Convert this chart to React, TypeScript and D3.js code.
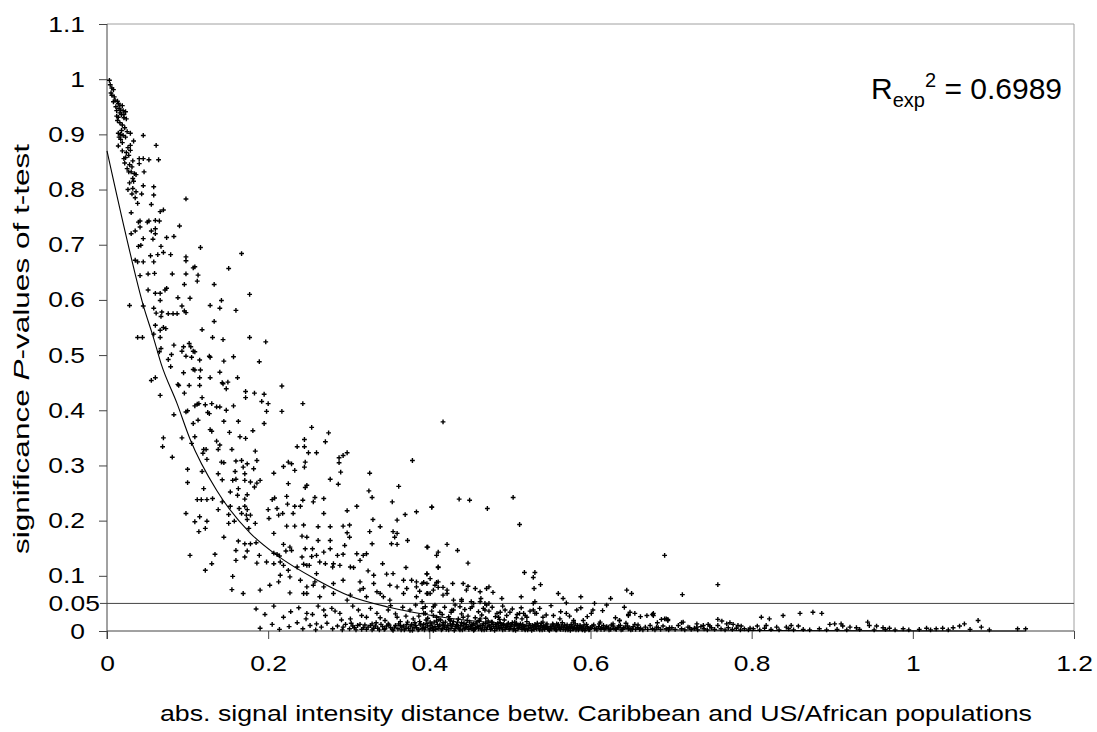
import React, { useEffect, useRef } from 'react';
import * as d3 from 'd3';

// axis ticks
const xTicks = [0, 0.2, 0.4, 0.6, 0.8, 1, 1.2];
const yTicks = [0, 0.1, 0.2, 0.3, 0.4, 0.5, 0.6, 0.7, 0.8, 0.9, 1, 1.1];
const pThreshold = 0.05;
const rSquared = '0.6989';

// exponential trend line
const fitX = [0, 0.025, 0.045, 0.058, 0.067, 0.087, 0.103, 0.136, 0.178, 0.211, 0.26, 0.302, 0.35, 0.417, 0.488, 0.6, 0.8, 1.0, 1.14];
const fitY = [0.87, 0.708, 0.59, 0.53, 0.485, 0.412, 0.348, 0.255, 0.177, 0.137, 0.093, 0.063, 0.043, 0.025, 0.014, 0.005, 0.001, 0.0002, 0.00005];

// scatter points [distance, p-value], grouped by region of the plot
const topPoints: [number, number][] = [
  [0.003, 0.998], [0.006, 0.984], [0.008, 0.981], [0.006, 0.971], [0.008, 0.959], [0.013, 0.96], [0.014, 0.956],
  [0.016, 0.953], [0.019, 0.952], [0.012, 0.943], [0.02, 0.943], [0.023, 0.941], [0.016, 0.939], [0.012, 0.933],
  [0.014, 0.931], [0.021, 0.93], [0.016, 0.921], [0.019, 0.917], [0.014, 0.902], [0.017, 0.9], [0.02, 0.898],
  [0.029, 0.902], [0.045, 0.898], [0.023, 0.895], [0.017, 0.891], [0.033, 0.888], [0.014, 0.879], [0.029, 0.88],
  [0.061, 0.88], [0.019, 0.87], [0.029, 0.871], [0.027, 0.862], [0.023, 0.858], [0.021, 0.856], [0.04, 0.856],
  [0.045, 0.856], [0.052, 0.854], [0.064, 0.854], [0.032, 0.852], [0.031, 0.841], [0.04, 0.847], [0.03, 0.832],
  [0.027, 0.832], [0.034, 0.829], [0.036, 0.827], [0.046, 0.832], [0.032, 0.82], [0.028, 0.812], [0.045, 0.807],
  [0.058, 0.805], [0.032, 0.802], [0.036, 0.796], [0.031, 0.792], [0.043, 0.792], [0.058, 0.79], [0.098, 0.783],
  [0.055, 0.773], [0.03, 0.758], [0.066, 0.76], [0.07, 0.763], [0.039, 0.741], [0.041, 0.743], [0.05, 0.741],
  [0.052, 0.743], [0.06, 0.744], [0.065, 0.743], [0.09, 0.734], [0.041, 0.732], [0.035, 0.725], [0.03, 0.72],
  [0.055, 0.725], [0.06, 0.729], [0.06, 0.72], [0.083, 0.715], [0.045, 0.711], [0.057, 0.71], [0.074, 0.713],
  [0.004, 0.99], [0.005, 0.975], [0.009, 0.968], [0.01, 0.962], [0.011, 0.95], [0.015, 0.947], [0.017, 0.944],
  [0.018, 0.936], [0.013, 0.925], [0.021, 0.936], [0.024, 0.928], [0.022, 0.912], [0.018, 0.907], [0.025, 0.905],
  [0.015, 0.895], [0.019, 0.885], [0.026, 0.876], [0.024, 0.867], [0.022, 0.848], [0.028, 0.845], [0.025, 0.838],
  [0.033, 0.815], [0.035, 0.785], [0.038, 0.775], [0.026, 0.8],
];

const upperMidPoints: [number, number][] = [
  [0.039, 0.697], [0.042, 0.699], [0.067, 0.697], [0.116, 0.695], [0.098, 0.678], [0.098, 0.671], [0.054, 0.68],
  [0.063, 0.682], [0.07, 0.686], [0.079, 0.682], [0.167, 0.684], [0.035, 0.672], [0.038, 0.669], [0.045, 0.669],
  [0.058, 0.669], [0.107, 0.658], [0.109, 0.66], [0.151, 0.657], [0.041, 0.644], [0.051, 0.647], [0.059, 0.648],
  [0.081, 0.647], [0.098, 0.647], [0.113, 0.645], [0.112, 0.634], [0.096, 0.628], [0.133, 0.628], [0.051, 0.618],
  [0.06, 0.612], [0.066, 0.612], [0.072, 0.618], [0.074, 0.621], [0.066, 0.599], [0.088, 0.604], [0.103, 0.603],
  [0.177, 0.61], [0.028, 0.59], [0.045, 0.589], [0.058, 0.585], [0.093, 0.589], [0.128, 0.59], [0.14, 0.585],
  [0.142, 0.599], [0.16, 0.581], [0.061, 0.576], [0.068, 0.578], [0.076, 0.575], [0.082, 0.575], [0.087, 0.575],
  [0.096, 0.58], [0.098, 0.577], [0.067, 0.57], [0.133, 0.561], [0.06, 0.554], [0.07, 0.55], [0.073, 0.548],
  [0.066, 0.545], [0.118, 0.546], [0.038, 0.532], [0.044, 0.532], [0.058, 0.538], [0.066, 0.532], [0.131, 0.532],
  [0.144, 0.528], [0.177, 0.532], [0.197, 0.524], [0.083, 0.518], [0.095, 0.515], [0.102, 0.521], [0.104, 0.515],
  [0.067, 0.512], [0.093, 0.507], [0.107, 0.507], [0.109, 0.506], [0.065, 0.506], [0.098, 0.498], [0.08, 0.501],
  [0.105, 0.496], [0.115, 0.491], [0.127, 0.498], [0.128, 0.496], [0.145, 0.489], [0.157, 0.497], [0.076, 0.492],
  [0.189, 0.488], [0.079, 0.479], [0.107, 0.474], [0.109, 0.473], [0.116, 0.473], [0.095, 0.468], [0.14, 0.469],
  [0.055, 0.454], [0.06, 0.459], [0.115, 0.459], [0.128, 0.459], [0.162, 0.459], [0.088, 0.447], [0.089, 0.445],
  [0.102, 0.445], [0.115, 0.445], [0.143, 0.45], [0.144, 0.448], [0.15, 0.451], [0.148, 0.439], [0.217, 0.444],
  [0.066, 0.427], [0.096, 0.431], [0.118, 0.423], [0.172, 0.434], [0.183, 0.431], [0.195, 0.429], [0.172, 0.423],
  [0.192, 0.416], [0.2, 0.412], [0.243, 0.412], [0.109, 0.408], [0.112, 0.411], [0.114, 0.412], [0.122, 0.41],
  [0.13, 0.412], [0.136, 0.406], [0.14, 0.406], [0.157, 0.408], [0.098, 0.397], [0.1, 0.399], [0.083, 0.392],
  [0.125, 0.396], [0.127, 0.394], [0.148, 0.4], [0.198, 0.398], [0.217, 0.398], [0.113, 0.382], [0.107, 0.376],
  [0.145, 0.38], [0.163, 0.38], [0.195, 0.376], [0.128, 0.365], [0.13, 0.362], [0.152, 0.36], [0.181, 0.363],
  [0.254, 0.369], [0.275, 0.359], [0.07, 0.35], [0.093, 0.35], [0.109, 0.352], [0.165, 0.352], [0.172, 0.349],
  [0.245, 0.347], [0.417, 0.379],
];

const lowerMidPoints: [number, number][] = [
  [0.271, 0.343], [0.105, 0.34], [0.136, 0.344], [0.14, 0.337], [0.069, 0.334], [0.12, 0.329], [0.123, 0.329],
  [0.138, 0.329], [0.155, 0.329], [0.184, 0.326], [0.236, 0.334], [0.245, 0.334], [0.25, 0.323], [0.26, 0.323],
  [0.081, 0.315], [0.119, 0.322], [0.124, 0.311], [0.142, 0.306], [0.145, 0.305], [0.16, 0.308], [0.167, 0.309],
  [0.174, 0.303], [0.186, 0.309], [0.219, 0.298], [0.225, 0.306], [0.229, 0.303], [0.233, 0.291], [0.246, 0.306],
  [0.245, 0.297], [0.288, 0.314], [0.293, 0.318], [0.298, 0.323], [0.288, 0.305], [0.379, 0.309], [0.1, 0.293],
  [0.118, 0.289], [0.138, 0.285], [0.159, 0.289], [0.169, 0.297], [0.171, 0.285], [0.182, 0.294], [0.207, 0.286],
  [0.29, 0.288], [0.326, 0.286], [0.1, 0.269], [0.143, 0.274], [0.156, 0.273], [0.16, 0.275], [0.171, 0.273],
  [0.178, 0.27], [0.186, 0.268], [0.19, 0.273], [0.277, 0.275], [0.225, 0.267], [0.246, 0.26], [0.248, 0.264],
  [0.287, 0.266], [0.362, 0.262], [0.12, 0.258], [0.153, 0.252], [0.163, 0.258], [0.183, 0.261], [0.325, 0.254],
  [0.112, 0.238], [0.117, 0.238], [0.124, 0.238], [0.131, 0.24], [0.162, 0.246], [0.171, 0.239], [0.174, 0.247],
  [0.205, 0.238], [0.208, 0.241], [0.223, 0.244], [0.243, 0.237], [0.258, 0.242], [0.269, 0.24], [0.329, 0.242],
  [0.143, 0.234], [0.153, 0.226], [0.164, 0.222], [0.171, 0.226], [0.174, 0.22], [0.2, 0.22], [0.211, 0.222],
  [0.224, 0.23], [0.233, 0.226], [0.24, 0.226], [0.256, 0.234], [0.31, 0.226], [0.354, 0.234], [0.403, 0.225],
  [0.098, 0.213], [0.138, 0.22], [0.151, 0.211], [0.167, 0.213], [0.178, 0.21], [0.213, 0.21], [0.218, 0.213],
  [0.231, 0.213], [0.298, 0.218], [0.269, 0.213], [0.37, 0.211], [0.384, 0.216], [0.115, 0.207], [0.124, 0.199],
  [0.201, 0.204], [0.174, 0.202], [0.173, 0.21], [0.109, 0.198], [0.122, 0.186], [0.151, 0.195], [0.158, 0.199],
  [0.176, 0.186], [0.184, 0.195], [0.223, 0.19], [0.233, 0.19], [0.244, 0.192], [0.262, 0.189], [0.277, 0.189],
  [0.293, 0.19], [0.301, 0.192], [0.33, 0.202], [0.339, 0.189], [0.36, 0.201], [0.114, 0.18], [0.145, 0.17],
  [0.207, 0.177], [0.242, 0.172], [0.248, 0.17], [0.262, 0.164], [0.277, 0.164], [0.298, 0.178], [0.301, 0.17],
  [0.326, 0.18], [0.355, 0.18], [0.357, 0.17], [0.36, 0.177], [0.163, 0.163], [0.171, 0.158], [0.178, 0.158],
  [0.185, 0.16], [0.219, 0.157], [0.227, 0.152], [0.246, 0.149], [0.255, 0.149], [0.277, 0.149], [0.295, 0.155],
  [0.329, 0.158], [0.353, 0.158], [0.36, 0.157], [0.373, 0.164], [0.398, 0.152], [0.422, 0.157],
  [0.437, 0.239], [0.45, 0.237], [0.403, 0.224], [0.472, 0.222], [0.504, 0.242], [0.512, 0.193], [0.397, 0.152],
  [0.411, 0.143], [0.435, 0.146],
];

const lowPoints: [number, number][] = [
  [0.103, 0.137], [0.134, 0.139], [0.16, 0.146], [0.174, 0.145], [0.189, 0.137], [0.211, 0.139], [0.207, 0.141],
  [0.214, 0.136], [0.222, 0.145], [0.229, 0.146], [0.242, 0.134], [0.254, 0.135], [0.26, 0.137], [0.269, 0.143],
  [0.286, 0.137], [0.293, 0.139], [0.31, 0.14], [0.318, 0.137], [0.322, 0.14], [0.409, 0.137], [0.13, 0.122],
  [0.122, 0.11], [0.171, 0.134], [0.16, 0.128], [0.186, 0.123], [0.198, 0.125], [0.207, 0.122], [0.215, 0.125],
  [0.219, 0.119], [0.225, 0.11], [0.236, 0.116], [0.244, 0.121], [0.251, 0.119], [0.26, 0.104], [0.271, 0.122],
  [0.281, 0.122], [0.289, 0.119], [0.302, 0.116], [0.314, 0.128], [0.324, 0.109], [0.342, 0.122], [0.347, 0.103],
  [0.355, 0.104], [0.368, 0.092], [0.378, 0.092], [0.384, 0.089], [0.397, 0.104], [0.411, 0.116], [0.411, 0.089],
  [0.156, 0.099], [0.155, 0.075], [0.169, 0.068], [0.19, 0.074], [0.202, 0.083], [0.213, 0.089], [0.215, 0.101],
  [0.227, 0.098], [0.24, 0.092], [0.248, 0.08], [0.258, 0.089], [0.269, 0.08], [0.281, 0.086], [0.293, 0.092],
  [0.314, 0.089], [0.318, 0.077], [0.331, 0.086], [0.335, 0.071], [0.351, 0.083], [0.36, 0.08], [0.372, 0.077],
  [0.384, 0.08], [0.397, 0.068], [0.407, 0.083], [0.417, 0.065], [0.227, 0.069], [0.244, 0.068], [0.302, 0.065],
  [0.343, 0.062], [0.371, 0.115], [0.331, 0.101], [0.28, 0.116], [0.306, 0.115], [0.264, 0.125], [0.248, 0.119],
  [0.397, 0.086], [0.405, 0.074], [0.384, 0.062], [0.368, 0.068], [0.351, 0.056], [0.339, 0.068], [0.322, 0.062],
  [0.314, 0.074], [0.298, 0.056], [0.281, 0.068], [0.264, 0.062], [0.248, 0.068], [0.256, 0.083],
  [0.448, 0.123], [0.411, 0.115], [0.397, 0.103], [0.401, 0.095], [0.393, 0.088], [0.409, 0.088], [0.411, 0.079],
  [0.417, 0.079], [0.429, 0.086], [0.442, 0.086], [0.448, 0.081], [0.446, 0.074], [0.457, 0.077], [0.463, 0.071],
  [0.471, 0.077], [0.474, 0.08], [0.479, 0.07], [0.518, 0.106], [0.531, 0.106], [0.529, 0.097], [0.538, 0.084],
  [0.53, 0.077], [0.692, 0.137], [0.758, 0.084], [0.645, 0.074], [0.651, 0.068], [0.714, 0.066], [0.56, 0.068],
  [0.566, 0.059], [0.588, 0.062], [0.625, 0.059], [0.514, 0.062], [0.49, 0.059], [0.388, 0.072], [0.398, 0.068],
  [0.422, 0.068], [0.422, 0.074], [0.44, 0.057], [0.464, 0.059], [0.391, 0.086],
];

// between the 0.05 line and zero
const bandPoints: [number, number][] = [
  [0.26, 0.013], [0.293, 0.007], [0.248, 0.032], [0.269, 0.038], [0.279, 0.041], [0.289, 0.032], [0.302, 0.022],
  [0.312, 0.038], [0.322, 0.025], [0.329, 0.013], [0.335, 0.032], [0.345, 0.019], [0.349, 0.038], [0.36, 0.025],
  [0.364, 0.01], [0.376, 0.038], [0.38, 0.022], [0.389, 0.013], [0.395, 0.032], [0.401, 0.016], [0.409, 0.025],
  [0.417, 0.01], [0.426, 0.019], [0.428, 0.038], [0.434, 0.01], [0.442, 0.025], [0.451, 0.041], [0.455, 0.013],
  [0.463, 0.022], [0.469, 0.038], [0.477, 0.016], [0.486, 0.025], [0.492, 0.01], [0.5, 0.034], [0.506, 0.016],
  [0.515, 0.022], [0.529, 0.038], [0.531, 0.032], [0.541, 0.016], [0.554, 0.028], [0.558, 0.013], [0.57, 0.032],
  [0.579, 0.016], [0.583, 0.038], [0.591, 0.019], [0.601, 0.032], [0.603, 0.038], [0.612, 0.016], [0.628, 0.013],
  [0.636, 0.019], [0.647, 0.028], [0.649, 0.034], [0.655, 0.032], [0.67, 0.028], [0.678, 0.032], [0.694, 0.022],
  [0.715, 0.016], [0.732, 0.013], [0.57, 0.051], [0.605, 0.05], [0.529, 0.05], [0.62, 0.047], [0.531, 0.053],
  [0.533, 0.032], [0.512, 0.032], [0.484, 0.032], [0.471, 0.047], [0.469, 0.05], [0.467, 0.041], [0.455, 0.05],
  [0.438, 0.044], [0.43, 0.038], [0.413, 0.034], [0.405, 0.028], [0.393, 0.032], [0.395, 0.044], [0.405, 0.044],
  [0.391, 0.053], [0.401, 0.068], [0.43, 0.056], [0.44, 0.054], [0.452, 0.053], [0.463, 0.053], [0.474, 0.05],
  [0.488, 0.034], [0.494, 0.038], [0.509, 0.03], [0.517, 0.032], [0.521, 0.025], [0.562, 0.022], [0.541, 0.025],
  [0.579, 0.019], [0.636, 0.019], [0.683, 0.015], [0.647, 0.03], [0.677, 0.03], [0.688, 0.021], [0.696, 0.021],
  [0.678, 0.028], [0.692, 0.022], [0.696, 0.019], [0.713, 0.015], [0.74, 0.01], [0.746, 0.012], [0.758, 0.021],
  [0.763, 0.018], [0.769, 0.013], [0.773, 0.015], [0.777, 0.012], [0.783, 0.01], [0.787, 0.009], [0.812, 0.025],
  [0.822, 0.022], [0.839, 0.028], [0.86, 0.032], [0.876, 0.034], [0.887, 0.032], [0.818, 0.01], [0.831, 0.007],
  [0.843, 0.007], [0.849, 0.01], [0.858, 0.009], [0.897, 0.012], [0.903, 0.013], [0.911, 0.013], [0.913, 0.009],
  [0.922, 0.007], [0.93, 0.006], [0.944, 0.016], [0.946, 0.01], [0.955, 0.009], [0.963, 0.006], [0.971, 0.005],
  [0.988, 0.004], [1.017, 0.005], [1.029, 0.004], [1.037, 0.005], [1.05, 0.006], [1.058, 0.009], [1.064, 0.013],
  [1.081, 0.019], [1.085, 0.007], [1.13, 0.004], [1.14, 0.004], [0.682, 0.007], [0.698, 0.006], [0.723, 0.006],
  [0.732, 0.007], [0.748, 0.009], [0.798, 0.005], [0.807, 0.009],
  [0.185, 0.04], [0.196, 0.03], [0.207, 0.045], [0.219, 0.025], [0.228, 0.035], [0.238, 0.042], [0.247, 0.022],
  [0.255, 0.03], [0.262, 0.045], [0.271, 0.028], [0.283, 0.036], [0.291, 0.02],
  [0.387, 0.027], [0.392, 0.041], [0.398, 0.023], [0.403, 0.036], [0.407, 0.047], [0.412, 0.021], [0.416, 0.03],
  [0.419, 0.043], [0.424, 0.026], [0.427, 0.034], [0.432, 0.047], [0.436, 0.022], [0.44, 0.031], [0.444, 0.039],
  [0.448, 0.027], [0.453, 0.044], [0.457, 0.024], [0.461, 0.035], [0.465, 0.029], [0.47, 0.023], [0.474, 0.036],
  [0.478, 0.043], [0.482, 0.026], [0.487, 0.021], [0.491, 0.045], [0.496, 0.028], [0.503, 0.04], [0.508, 0.024],
  [0.514, 0.042], [0.519, 0.028], [0.525, 0.036], [0.537, 0.041], [0.545, 0.029], [0.551, 0.046], [0.563, 0.035],
  [0.574, 0.027], [0.588, 0.042], [0.596, 0.026], [0.615, 0.037], [0.631, 0.024], [0.642, 0.043], [0.662, 0.026],
  [0.305, 0.045], [0.316, 0.028], [0.327, 0.041], [0.339, 0.024], [0.352, 0.046], [0.358, 0.031], [0.367, 0.043],
  [0.371, 0.027], [0.383, 0.047],
];

// the dense strip right on the zero line
const zeroPoints: [number, number][] = [
  [0.19, 0.005], [0.205, 0.012], [0.214, 0.003], [0.226, 0.008], [0.236, 0.015], [0.243, 0.004], [0.252, 0.01],
  [0.259, 0.002], [0.266, 0.007], [0.273, 0.014], [0.28, 0.004], [0.286, 0.009], [0.292, 0.002], [0.296, 0.012],
  [0.301, 0.004], [0.305, 0.009], [0.309, 0.002], [0.314, 0.012], [0.318, 0.006], [0.322, 0.003], [0.327, 0.01],
  [0.331, 0.005], [0.334, 0.015], [0.338, 0.002], [0.342, 0.008], [0.345, 0.004], [0.349, 0.013], [0.352, 0.006],
  [0.355, 0.001], [0.358, 0.01], [0.361, 0.004], [0.364, 0.017], [0.366, 0.007], [0.369, 0.002], [0.372, 0.012],
  [0.374, 0.005], [0.377, 0.009], [0.379, 0.001], [0.382, 0.015], [0.384, 0.006], [0.387, 0.003], [0.389, 0.011],
  [0.392, 0.007], [0.394, 0.002], [0.396, 0.02], [0.398, 0.009], [0.401, 0.004], [0.403, 0.013], [0.405, 0.001],
  [0.407, 0.008], [0.409, 0.018], [0.411, 0.005], [0.413, 0.011], [0.415, 0.002], [0.417, 0.015], [0.419, 0.007],
  [0.421, 0.003], [0.423, 0.01], [0.425, 0.021], [0.427, 0.005], [0.429, 0.012], [0.431, 0.001], [0.433, 0.008],
  [0.435, 0.016], [0.437, 0.004], [0.439, 0.01], [0.441, 0.002], [0.443, 0.014], [0.445, 0.006], [0.447, 0.019],
  [0.449, 0.003], [0.451, 0.009], [0.453, 0.012], [0.455, 0.001], [0.457, 0.006], [0.459, 0.016], [0.461, 0.004],
  [0.463, 0.01], [0.465, 0.002], [0.467, 0.013], [0.469, 0.007], [0.471, 0.003], [0.473, 0.018], [0.475, 0.009],
  [0.477, 0.005], [0.479, 0.012], [0.481, 0.001], [0.483, 0.007], [0.485, 0.014], [0.487, 0.004], [0.489, 0.01],
  [0.491, 0.002], [0.493, 0.02], [0.495, 0.006], [0.497, 0.011], [0.499, 0.003], [0.501, 0.008], [0.503, 0.015],
  [0.505, 0.004], [0.507, 0.001], [0.509, 0.01], [0.511, 0.006], [0.513, 0.013], [0.515, 0.003], [0.517, 0.008],
  [0.519, 0.002], [0.521, 0.017], [0.523, 0.005], [0.525, 0.01], [0.527, 0.001], [0.529, 0.007], [0.531, 0.012],
  [0.533, 0.004], [0.535, 0.009], [0.537, 0.002], [0.539, 0.014], [0.541, 0.006], [0.543, 0.003], [0.545, 0.011],
  [0.547, 0.005], [0.549, 0.001], [0.551, 0.008], [0.553, 0.013], [0.555, 0.004], [0.557, 0.002], [0.559, 0.01],
  [0.561, 0.006], [0.563, 0.003], [0.565, 0.015], [0.567, 0.007], [0.569, 0.002], [0.571, 0.011], [0.573, 0.005],
  [0.575, 0.001], [0.577, 0.009], [0.579, 0.004], [0.581, 0.013], [0.583, 0.006], [0.585, 0.002], [0.587, 0.01],
  [0.589, 0.004], [0.591, 0.007], [0.593, 0.001], [0.595, 0.012], [0.597, 0.005], [0.599, 0.003], [0.602, 0.009],
  [0.605, 0.004], [0.608, 0.002], [0.611, 0.013], [0.614, 0.006], [0.617, 0.003], [0.62, 0.008], [0.623, 0.002],
  [0.626, 0.011], [0.629, 0.005], [0.632, 0.003], [0.635, 0.009], [0.638, 0.002], [0.641, 0.006], [0.644, 0.014],
  [0.647, 0.004], [0.65, 0.002], [0.653, 0.008], [0.656, 0.003], [0.659, 0.011], [0.662, 0.005], [0.665, 0.002],
  [0.668, 0.007], [0.671, 0.003], [0.674, 0.01], [0.677, 0.004], [0.68, 0.002], [0.684, 0.006], [0.687, 0.003],
  [0.69, 0.009], [0.694, 0.004], [0.697, 0.002], [0.701, 0.006], [0.705, 0.003], [0.709, 0.01], [0.713, 0.004],
  [0.717, 0.002], [0.721, 0.007], [0.725, 0.003], [0.729, 0.005], [0.733, 0.002], [0.737, 0.008], [0.741, 0.004],
  [0.745, 0.002], [0.75, 0.006], [0.754, 0.003], [0.758, 0.01], [0.762, 0.004], [0.767, 0.002], [0.771, 0.006],
  [0.776, 0.003], [0.781, 0.005], [0.786, 0.002], [0.791, 0.004], [0.796, 0.002], [0.802, 0.004], [0.81, 0.002],
  [0.816, 0.005], [0.824, 0.003], [0.834, 0.002], [0.846, 0.004], [0.852, 0.002], [0.864, 0.003], [0.872, 0.002],
  [0.884, 0.004], [0.893, 0.002], [0.906, 0.003], [0.918, 0.002], [0.934, 0.003], [0.952, 0.002], [0.966, 0.003],
  [0.978, 0.002], [0.995, 0.002], [1.008, 0.003], [1.022, 0.002], [1.044, 0.002], [1.071, 0.003], [1.095, 0.002],
];

// second layer of the zero strip, where the markers pile up most
const zeroPointsDense: [number, number][] = [
  [0.303, 0.014], [0.307, 0.006], [0.311, 0.01], [0.316, 0.003], [0.32, 0.011], [0.324, 0.007], [0.329, 0.002],
  [0.333, 0.009], [0.336, 0.005], [0.34, 0.012], [0.344, 0.003], [0.347, 0.009], [0.35, 0.011], [0.354, 0.003],
  [0.357, 0.007], [0.362, 0.013], [0.365, 0.002], [0.368, 0.009], [0.371, 0.005], [0.373, 0.016], [0.376, 0.001],
  [0.378, 0.012], [0.381, 0.006], [0.383, 0.01], [0.386, 0.002], [0.388, 0.017], [0.391, 0.004], [0.393, 0.012],
  [0.395, 0.006], [0.397, 0.014], [0.4, 0.002], [0.402, 0.01], [0.404, 0.006], [0.406, 0.016], [0.408, 0.003],
  [0.41, 0.012], [0.412, 0.008], [0.414, 0.02], [0.416, 0.004], [0.418, 0.011], [0.42, 0.016], [0.422, 0.007],
  [0.424, 0.002], [0.426, 0.013], [0.428, 0.009], [0.43, 0.017], [0.432, 0.004], [0.434, 0.012], [0.436, 0.007],
  [0.438, 0.002], [0.44, 0.015], [0.442, 0.009], [0.444, 0.004], [0.446, 0.012], [0.448, 0.008], [0.45, 0.016],
  [0.452, 0.005], [0.454, 0.01], [0.456, 0.003], [0.458, 0.013], [0.46, 0.008], [0.462, 0.019], [0.464, 0.005],
  [0.466, 0.01], [0.468, 0.002], [0.47, 0.014], [0.472, 0.007], [0.474, 0.011], [0.476, 0.003], [0.478, 0.016],
  [0.48, 0.008], [0.482, 0.012], [0.484, 0.004], [0.486, 0.009], [0.488, 0.015], [0.49, 0.006], [0.492, 0.012],
  [0.494, 0.003], [0.496, 0.008], [0.498, 0.014], [0.5, 0.005], [0.502, 0.011], [0.504, 0.002], [0.506, 0.009],
  [0.508, 0.014], [0.51, 0.004], [0.512, 0.01], [0.514, 0.007], [0.516, 0.012], [0.518, 0.004], [0.52, 0.009],
  [0.522, 0.002], [0.524, 0.013], [0.526, 0.006], [0.528, 0.01], [0.53, 0.003], [0.532, 0.008], [0.534, 0.014],
  [0.536, 0.005], [0.538, 0.01], [0.54, 0.002], [0.542, 0.009], [0.544, 0.006], [0.546, 0.013], [0.548, 0.003],
  [0.55, 0.008], [0.552, 0.004], [0.554, 0.011], [0.556, 0.007], [0.558, 0.002], [0.56, 0.012], [0.562, 0.004],
  [0.564, 0.009], [0.566, 0.003], [0.568, 0.011], [0.57, 0.006], [0.572, 0.002], [0.574, 0.008], [0.576, 0.012],
  [0.578, 0.004], [0.58, 0.007], [0.582, 0.002], [0.584, 0.01], [0.586, 0.005], [0.588, 0.008], [0.59, 0.002],
  [0.592, 0.011], [0.594, 0.004], [0.596, 0.008], [0.598, 0.002], [0.6, 0.006], [0.604, 0.011], [0.607, 0.005],
  [0.61, 0.008], [0.613, 0.003], [0.616, 0.01], [0.619, 0.005], [0.622, 0.007], [0.625, 0.003], [0.628, 0.009],
  [0.631, 0.004], [0.634, 0.006], [0.637, 0.01], [0.64, 0.003], [0.643, 0.007], [0.646, 0.009], [0.649, 0.005],
  [0.652, 0.003], [0.655, 0.012], [0.658, 0.006], [0.661, 0.003],
];

const W = 1097;
const H = 732;
const margin = { left: 107, right: 23, top: 24, bottom: 101 };
const font = 'Arial, "Liberation Sans", sans-serif';
const widen = 1.2; // the original chart's text is wider than plain Arial

export default function App() {
  const ref = useRef<SVGSVGElement>(null);

  useEffect(() => {
    document.body.style.margin = '0';
    const svg = d3.select(ref.current);
    svg.selectAll('*').remove();

    const x = d3.scaleLinear().domain([0, 1.2]).range([margin.left, W - margin.right]);
    const y = d3.scaleLinear().domain([0, 1.1]).range([H - margin.bottom, margin.top]);

    const stretch = (sel: d3.Selection<any, any, any, any>) => {
      sel.each(function () {
        const el = this as SVGTextElement;
        const w = el.getComputedTextLength();
        d3.select(el).attr('textLength', w * widen).attr('lengthAdjust', 'spacingAndGlyphs');
      });
    };

    svg.append('rect').attr('width', W).attr('height', H).attr('fill', '#fff');

    // plot frame: light top and right edges
    svg.append('path')
      .attr('d', `M${x(0)},${y(1.1)}H${x(1.2)}V${y(0)}`)
      .attr('fill', 'none')
      .attr('stroke', '#a0a0a0')
      .attr('stroke-width', 1);

    // y axis
    const yAxis = d3.axisLeft(y).tickValues(yTicks).tickSize(8).tickPadding(14)
      .tickFormat(d => String(+(+d).toFixed(2)));
    const gy = svg.append('g').attr('transform', `translate(${x(0)},0)`).call(yAxis);
    gy.select('.domain').remove();
    gy.selectAll('line').attr('stroke', '#444');
    gy.selectAll('text').attr('font-family', font).attr('font-size', 22).attr('fill', '#000');
    stretch(gy.selectAll('text'));
    svg.append('line').attr('x1', x(0)).attr('x2', x(0)).attr('y1', y(1.1)).attr('y2', y(0) + 8)
      .attr('stroke', '#444');

    // x axis
    const xAxis = d3.axisBottom(x).tickValues(xTicks).tickSize(8).tickPadding(16)
      .tickFormat(d => String(+d));
    const gx = svg.append('g').attr('transform', `translate(0,${y(0)})`).call(xAxis);
    gx.select('.domain').remove();
    gx.selectAll('line').attr('stroke', '#444');
    gx.selectAll('text').attr('font-family', font).attr('font-size', 22).attr('fill', '#000');
    stretch(gx.selectAll('text'));
    svg.append('line').attr('x1', x(0)).attr('x2', x(1.2)).attr('y1', y(0)).attr('y2', y(0))
      .attr('stroke', '#444');

    // 0.05 significance line
    svg.append('line').attr('x1', x(0) - 7).attr('x2', x(1.2))
      .attr('y1', y(pThreshold)).attr('y2', y(pThreshold))
      .attr('stroke', '#444');
    const pl = svg.append('text').attr('x', x(0) - 7).attr('y', y(pThreshold)).attr('dy', '0.36em')
      .attr('text-anchor', 'end').attr('font-family', font).attr('font-size', 22)
      .text(String(pThreshold));
    stretch(pl);

    // points
    const all = [...topPoints, ...upperMidPoints, ...lowerMidPoints, ...lowPoints, ...bandPoints, ...zeroPoints, ...zeroPointsDense];
    const s = 2.4;
    svg.append('g')
      .selectAll('path')
      .data(all)
      .join('path')
      .attr('d', d => `M${x(d[0]) - s},${y(d[1])}h${2 * s}M${x(d[0])},${y(d[1]) - s}v${2 * s}`)
      .attr('stroke', '#000')
      .attr('stroke-width', 1.4);

    // trend line
    const fit = fitX.map((v, i) => [v, fitY[i]] as [number, number]);
    svg.append('path')
      .datum(fit)
      .attr('d', d3.line<[number, number]>().x(d => x(d[0])).y(d => y(d[1])).curve(d3.curveMonotoneX))
      .attr('fill', 'none')
      .attr('stroke', '#000')
      .attr('stroke-width', 1.1);

    // R squared label
    const r = svg.append('text').attr('x', 1062).attr('y', 99).attr('text-anchor', 'end')
      .attr('font-family', font).attr('font-size', 30);
    r.append('tspan').text('R');
    r.append('tspan').attr('font-size', 20).attr('dy', 8).text('exp');
    r.append('tspan').attr('font-size', 20).attr('dy', -20).text('2');
    r.append('tspan').attr('dy', 12).text(` = ${rSquared}`);

    // axis titles
    svg.append('text').attr('x', 596).attr('y', 721).attr('text-anchor', 'middle')
      .attr('font-family', font).attr('font-size', 22)
      .attr('textLength', 872).attr('lengthAdjust', 'spacingAndGlyphs')
      .text('abs. signal intensity distance betw. Caribbean and US/African populations');

    const yt = svg.append('text')
      .attr('transform', `translate(29,349) rotate(-90)`)
      .attr('text-anchor', 'middle').attr('font-family', font).attr('font-size', 22)
      .attr('textLength', 410).attr('lengthAdjust', 'spacingAndGlyphs');
    yt.append('tspan').text('significance ');
    yt.append('tspan').attr('font-style', 'italic').text('P');
    yt.append('tspan').text('-values of t-test');
  }, []);

  return <svg ref={ref} width={W} height={H} style={{ display: 'block' }} />;
}
